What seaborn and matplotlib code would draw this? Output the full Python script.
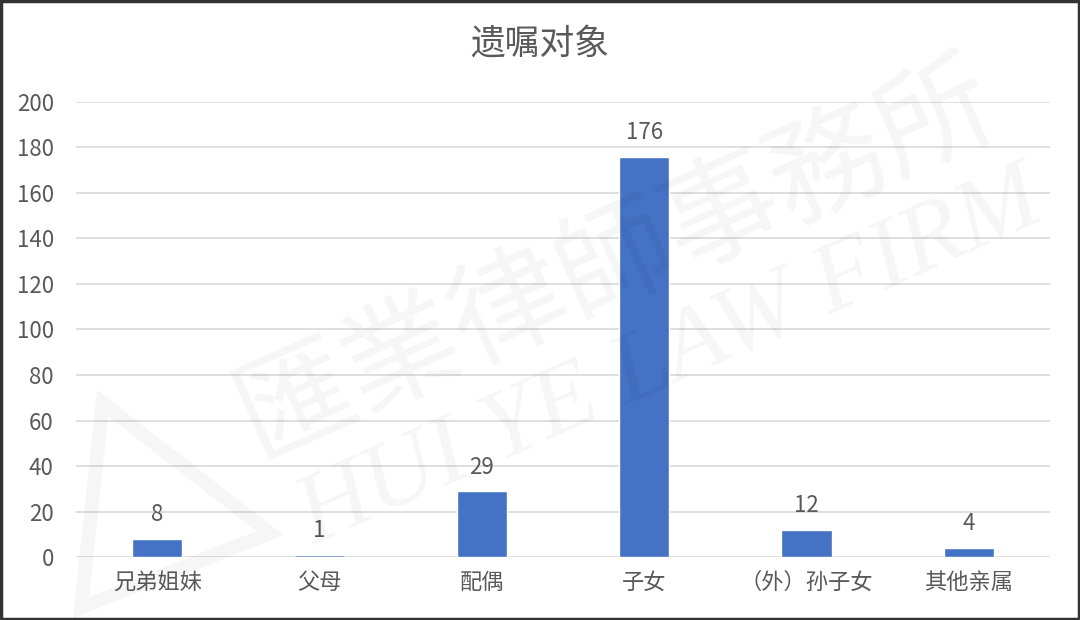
import matplotlib
matplotlib.use('Agg')
import matplotlib.pyplot as plt
import seaborn as sns
import pandas as pd
from matplotlib.patches import Polygon, Rectangle

categories = ['兄弟姐妹', '父母', '配偶', '子女', '（外）孙子女', '其他亲属']
counts = [8, 1, 29, 176, 12, 4]
y_ticks = [0, 20, 40, 60, 80, 100, 120, 140, 160, 180, 200]

df = pd.DataFrame({'对象': categories, '人数': counts})

sns.set_theme(style='white')
plt.rcParams['font.family'] = ['Noto Sans CJK SC', 'DejaVu Sans']

text_gray = '#595959'
bar_blue = '#4472C4'

fig = plt.figure(figsize=(10.8, 6.2), dpi=100)
fig.patch.set_facecolor('white')

# watermark (behind the axes)
fig.text(0.57, 0.58, '匯業律師事務所', rotation=24, fontsize=84, color='#000000',
         alpha=0.04, ha='center', va='center', family=['Noto Sans CJK TC', 'DejaVu Sans'])
fig.text(0.62, 0.42, 'HUI YE LAW FIRM', rotation=24, fontsize=72, color='#000000',
         alpha=0.04, ha='center', va='center', family='Liberation Serif', style='italic')
tri = Polygon([(0.075, 0.02), (0.095, 0.35), (0.25, 0.14)], closed=True, fill=False,
              lw=10, edgecolor='#000000', alpha=0.035, transform=fig.transFigure)
fig.patches.append(tri)

ax = fig.add_axes([0.0704, 0.1016, 0.9018, 0.7339])
ax.patch.set_alpha(0)
sns.barplot(data=df, x='对象', y='人数', color=bar_blue, width=0.31, saturation=1, ax=ax)

ax.set_ylim(0, 200)
ax.set_yticks(y_ticks)
ax.grid(axis='y', color='#D9D9D9', lw=1.2)
ax.set_axisbelow(True)
for s in ax.spines.values():
    s.set_visible(False)
ax.set_xlabel('')
ax.set_ylabel('')
ax.tick_params(axis='both', length=0, labelsize=16, labelcolor=text_gray)
ax.tick_params(axis='x', pad=10)
ax.tick_params(axis='y', pad=16)

for c in ax.containers:
    ax.bar_label(c, labels=[str(v) for v in counts], padding=9, fontsize=16, color=text_gray)

fig.text(0.5, 0.927, '遗嘱对象', ha='center', va='center', fontsize=25, color=text_gray)

# frame around the picture
fig.patches.append(Rectangle((0.001, 0.002), 0.998, 0.996, fill=False, lw=2.5,
                             edgecolor='#333333', transform=fig.transFigure))

fig.savefig('out.png', dpi=100)
